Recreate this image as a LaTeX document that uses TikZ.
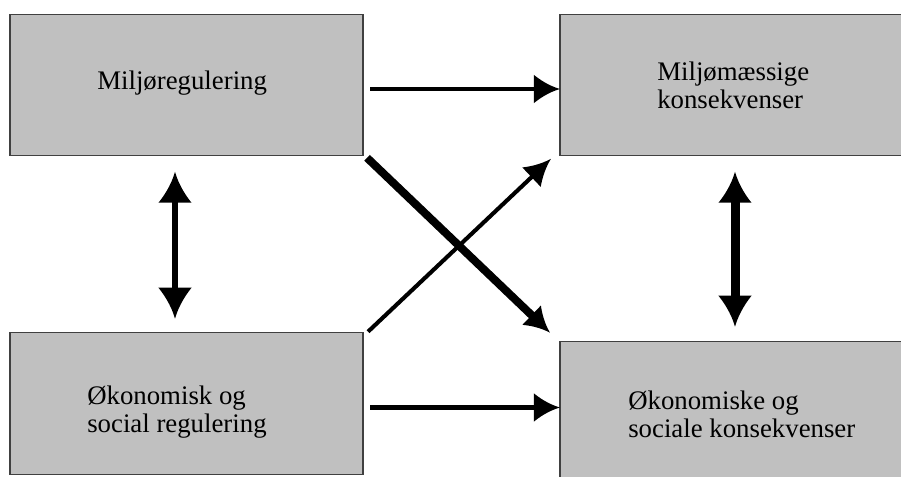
\documentclass[tikz,border=0pt]{standalone}
\usepackage{fontspec}
\setmainfont{Liberation Serif}
\usepackage{tikz}
\usetikzlibrary{arrows.meta,calc}
\usepackage{xcolor}
\definecolor{boxgray}{RGB}{192,192,192}

% arrow head with slightly hollow flanks
\pgfdeclarearrow{
  name=Flare,
  parameters={\the\pgfarrowlength,\the\pgfarrowwidth},
  setup code={
    \pgfarrowssettipend{\pgfarrowlength}
    \pgfarrowssetbackend{0pt}
    \pgfarrowssetlineend{0.15\pgfarrowlength}
    \pgfarrowssavethe\pgfarrowlength
    \pgfarrowssavethe\pgfarrowwidth
  },
  drawing code={
    \pgfpathmoveto{\pgfqpoint{\pgfarrowlength}{0pt}}
    \pgfpathcurveto{\pgfqpoint{0.55\pgfarrowlength}{0.12\pgfarrowwidth}}
      {\pgfqpoint{0.2\pgfarrowlength}{0.35\pgfarrowwidth}}
      {\pgfqpoint{0pt}{0.5\pgfarrowwidth}}
    \pgfpathlineto{\pgfqpoint{0pt}{-0.5\pgfarrowwidth}}
    \pgfpathcurveto{\pgfqpoint{0.2\pgfarrowlength}{-0.35\pgfarrowwidth}}
      {\pgfqpoint{0.55\pgfarrowlength}{-0.12\pgfarrowwidth}}
      {\pgfqpoint{\pgfarrowlength}{0pt}}
    \pgfpathclose
    \pgfusepathqfill
  },
  defaults={length=10pt,width=10pt}
}

\begin{document}
\begin{tikzpicture}[x=0.025cm,y=-0.025cm,
    box/.style={draw=black!75,line width=0.8pt,fill=boxgray,inner sep=0pt,outer sep=0pt,
      minimum width=8.825cm,minimum height=3.54cm},
    txt/.style={anchor=base west,inner sep=0pt,align=left,
      font=\fontsize{19.06pt}{20.1pt}\selectfont},
    hor/.style={-{Flare[length=18.5pt,width=20pt]},line width=3.3pt},
    dbl/.style={{Flare[length=22pt,width=23.5pt]}-{Flare[length=22pt,width=23.5pt]}}]
  \useasboundingbox (0,0) rectangle (901,477);
  % boxes
  \node[box] (ml) at (186.5,85) {};
  \node[box] (mk) at (736.5,85) {};
  \node[box] (ol) at (186.5,403.5) {};
  \node[box] (ok) at (736.5,412.5) {};
  % texts (base = last line)
  \node[txt] (mlt) at (97,90) {Miljøregulering};
  \node[txt] (mkt) at (657,108.3) {Miljømæssige\\konsekvenser};
  \node[txt] (olt) at (87,432.3) {Økonomisk og\\social regulering};
  \node[txt] (okt) at (628,437.3) {Økonomiske og\\sociale konsekvenser};
  % arrows
  \draw[hor] ($(ml.east)+(7,4)$) -- ($(mk.west)+(0,4)$);
  \draw[hor] ($(ol.east)+(7,4)$) -- ($(ok.west)+(0,-5)$);
  \draw[dbl,line width=4.3pt] ($(ml.south)+(-11.5,16)$) -- ($(ol.north)+(-11.5,-14)$);
  \draw[dbl,line width=6.4pt] ($(mk.south)+(-1.5,16)$) -- ($(ok.north)+(-1.5,-15)$);
  \draw[-{Flare[length=18pt,width=19pt]},line width=5.7pt]
    ($(ml.south east)+(4,2)$) -- ($(ok.north west)+(-10,-9)$);
  \draw[-{Flare[length=19pt,width=19pt]},line width=2.9pt]
    ($(ol.north east)+(5,-1)$) -- ($(mk.south west)+(-9,3)$);
\end{tikzpicture}
\end{document}
